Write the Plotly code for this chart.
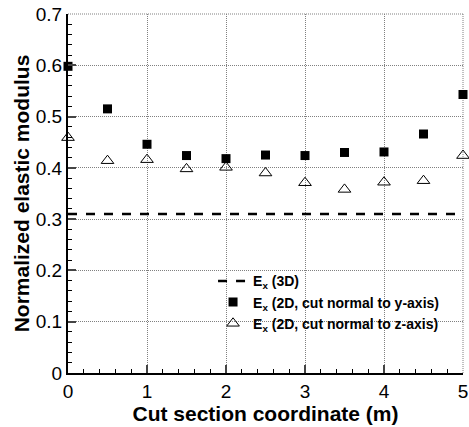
import plotly.graph_objects as go

x_pos = [0, 0.5, 1, 1.5, 2, 2.5, 3, 3.5, 4, 4.5, 5]
ex_y_cut = [0.598, 0.515, 0.446, 0.424, 0.418, 0.425, 0.424, 0.430, 0.431, 0.466, 0.543]
ex_z_cut = [0.459, 0.414, 0.416, 0.398, 0.401, 0.390, 0.371, 0.358, 0.372, 0.375, 0.424]
ex_3d = 0.31
x_ticks = [0, 1, 2, 3, 4, 5]
y_ticks = [0, 0.1, 0.2, 0.3, 0.4, 0.5, 0.6, 0.7]
y_ticktext = ["0", "0.1", "0.2", "0.3", "0.4", "0.5", "0.6", "0.7"]

FONT = "Arial, Liberation Sans, sans-serif"
GRID = "#808080"

fig = go.Figure()
fig.add_trace(go.Scatter(
    x=[x_pos[0], x_pos[-1]], y=[ex_3d, ex_3d], mode="lines",
    line=dict(color="black", width=2.5, dash="dash"),
    name="<b>E<sub>x</sub> (3D)</b>"))
fig.add_trace(go.Scatter(
    x=x_pos, y=ex_y_cut, mode="markers",
    marker=dict(symbol="square", size=9, color="black"),
    name="<b>E<sub>x</sub> (2D, cut normal to y-axis)</b>", cliponaxis=False))
fig.add_trace(go.Scatter(
    x=x_pos, y=ex_z_cut, mode="markers",
    marker=dict(symbol="triangle-up-open", size=11, color="black", line=dict(width=1)),
    name="<b>E<sub>x</sub> (2D, cut normal to z-axis)</b>", cliponaxis=False))

# dotted frame on top and right (as in the reference)
fig.add_shape(type="line", xref="paper", yref="paper", x0=0, x1=1, y0=1, y1=1,
              line=dict(color=GRID, width=1, dash="1px,1px"), layer="below")
fig.add_shape(type="line", xref="paper", yref="paper", x0=1, x1=1, y0=0, y1=1,
              line=dict(color=GRID, width=1, dash="1px,1px"), layer="below")

fig.update_layout(
    width=469, height=427,
    margin=dict(l=68, r=6, t=14, b=54, autoexpand=False),
    paper_bgcolor="white", plot_bgcolor="white",
    font=dict(family=FONT, color="black"),
    showlegend=True,
    legend=dict(x=0.952, y=0.30, xanchor="right", yanchor="top",
                bgcolor="rgba(0,0,0,0)", font=dict(size=14, family=FONT),
                tracegroupgap=0),
)
fig.update_xaxes(
    range=[0, 5], tickvals=x_ticks, ticks="inside", ticklen=8, tickwidth=2,
    showline=True, linecolor="black", linewidth=2,
    showgrid=True, gridcolor=GRID, griddash="1px,1px", gridwidth=1,
    tickfont=dict(size=19), zeroline=False,
    minor=dict(dtick=0.2, ticks="inside", ticklen=4, tickwidth=1, tickcolor="black", showgrid=False),
    title=dict(text="<b>Cut section coordinate (m)</b>", font=dict(size=21), standoff=0),
)
fig.update_yaxes(
    range=[0, 0.7], tickvals=y_ticks, ticktext=y_ticktext, ticks="inside", ticklen=8, tickwidth=2,
    showline=True, linecolor="black", linewidth=2,
    showgrid=True, gridcolor=GRID, griddash="1px,1px", gridwidth=1,
    tickfont=dict(size=19), zeroline=False,
    minor=dict(dtick=0.02, ticks="inside", ticklen=4, tickwidth=1, tickcolor="black", showgrid=False),
    title=dict(text="<b>Normalized elastic modulus</b>", font=dict(size=21), standoff=0),
)

fig.write_html("out.html", config={"displayModeBar": False},
               post_script="document.body.style.margin='0';document.body.style.padding='0';")
